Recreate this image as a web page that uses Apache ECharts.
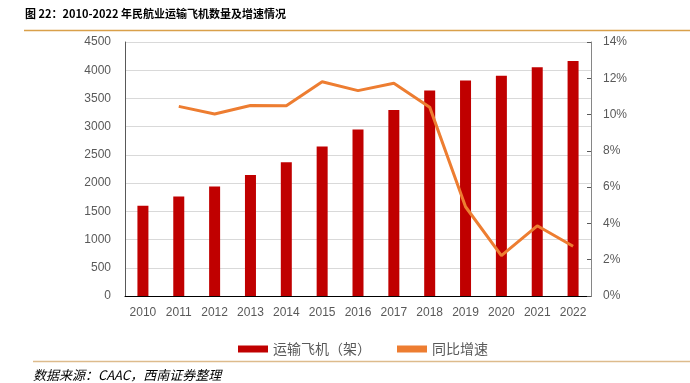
<!DOCTYPE html>
<html><head><meta charset="utf-8">
<script src="https://cdn.jsdelivr.net/npm/echarts@6/dist/echarts.min.js"></script>
<style>html,body{margin:0;padding:0;background:#fff}#c{width:690px;height:383px}</style>
</head><body><div id="c"></div>
<script>
const years = ['2010','2011','2012','2013','2014','2015','2016','2017','2018','2019','2020','2021','2022'];
const planes = [1597,1764,1941,2145,2370,2650,2950,3296,3639,3818,3903,4054,4165];
const growth = [null,10.45,10.03,10.5,10.49,11.81,11.32,11.73,10.41,4.92,2.23,3.87,2.74];
const leftTicks = [0,500,1000,1500,2000,2500,3000,3500,4000,4500];
const rightTicks = [0,2,4,6,8,10,12,14];

const chart = echarts.init(document.getElementById('c'));
const font = '"Liberation Sans","Noto Sans CJK SC",sans-serif';
chart.setOption({
  animation:false,
  textStyle:{fontFamily:font},
  graphic:[
    {type:'text',left:25,top:8,style:{text:'图 22：2010-2022 年民航业运输飞机数量及增速情况',font:'bold 11px "Noto Sans CJK SC",sans-serif',fill:'#000'}},
    {type:'line',shape:{x1:24,y1:30.5,x2:690,y2:30.5},style:{stroke:'#D9A04A',lineWidth:1.5}},
    {type:'line',shape:{x1:33,y1:361.5,x2:690,y2:361.5},style:{stroke:'#DDBB8C',lineWidth:1.5}},
    {type:'text',left:33,top:369,style:{text:'数据来源：CAAC，西南证券整理',font:'italic 13px "Noto Sans CJK SC",sans-serif',fill:'#000'}}
  ],
  legend:{
    top:337,left:233,itemGap:26,itemWidth:30,itemHeight:7,
    textStyle:{fontSize:14,color:'#595959',fontFamily:'"Noto Sans CJK SC",sans-serif'},
    data:[{name:'运输飞机（架）',icon:'rect'},{name:'同比增速',icon:'rect',itemStyle:{color:'#ED7D31'}}]
  },
  grid:{left:125,right:99,top:42,bottom:87},
  xAxis:{
    type:'category',data:years,
    axisLine:{lineStyle:{color:'#000',width:1}},
    axisTick:{inside:true,length:5,lineStyle:{color:'#000'}},
    axisLabel:{color:'#595959',fontSize:12,margin:11}
  },
  yAxis:[
    {type:'value',min:0,max:4500,interval:500,
     axisLine:{show:true,lineStyle:{color:'#595959'}},
     axisTick:{show:false},
     axisLabel:{color:'#595959',fontSize:12,margin:14,formatter:v=>String(v)},
     splitLine:{lineStyle:{color:'#D9D9D9'}}},
    {type:'value',min:0,max:14,interval:2,
     axisLine:{show:true,lineStyle:{color:'#868686'}},
     axisTick:{show:true,inside:true,length:4,lineStyle:{color:'#595959'}},
     axisLabel:{color:'#595959',fontSize:12,margin:12,formatter:v=>v+'%'},
     splitLine:{show:false}}
  ],
  series:[
    {name:'运输飞机（架）',type:'bar',data:planes,barWidth:11,itemStyle:{color:'#C00000'}},
    {name:'同比增速',type:'line',yAxisIndex:1,data:growth,symbol:'none',
     lineStyle:{color:'#ED7D31',width:3},itemStyle:{color:'#ED7D31'}}
  ]
});
</script></body></html>
